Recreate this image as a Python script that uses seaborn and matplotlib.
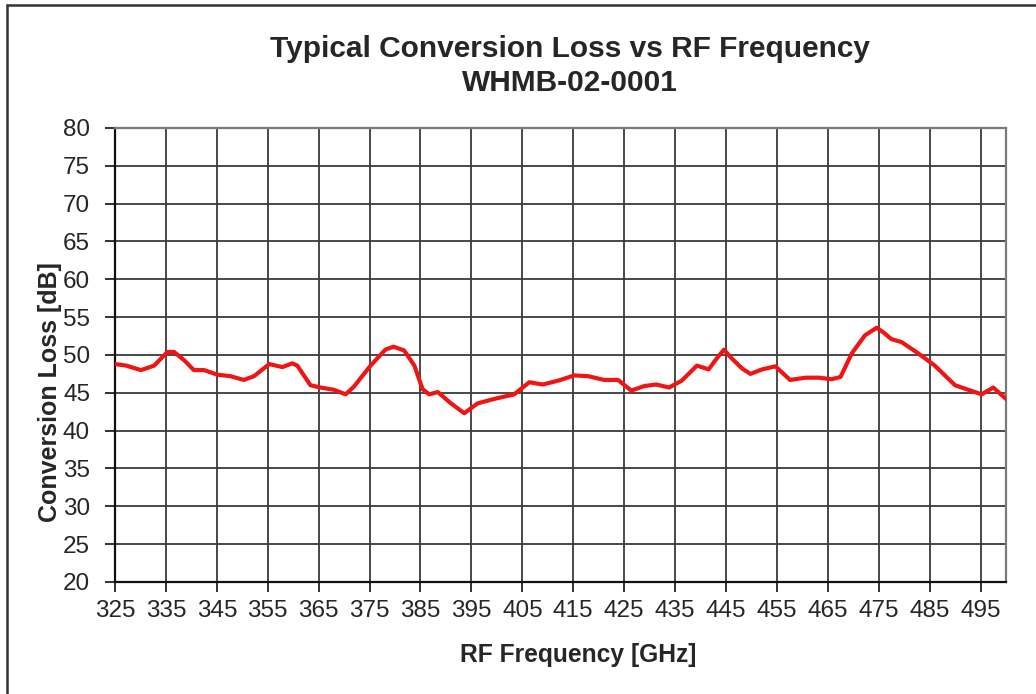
import matplotlib
matplotlib.use("Agg")
import matplotlib.pyplot as plt
import seaborn as sns
import pandas as pd
from matplotlib.lines import Line2D

# values
freq_ghz = [325, 327.2, 330.1, 332.7, 335.3, 336.6, 338.6, 340.5, 342.5, 345.1,
            347.7, 350.3, 352.3, 355.3, 357.9, 359.8, 360.8, 363.4, 365.4, 368.0,
            370.3, 371.9, 375.2, 378.1, 379.7, 381.8, 383.8, 385.4, 386.7, 388.4,
            391.0, 393.6, 396.2, 399.5, 403.4, 404.7, 406.4, 409.0, 412.0, 415.2,
            417.9, 421.1, 423.8, 426.4, 429.0, 431.3, 433.8, 436.3, 439.3, 441.6,
            442.9, 444.6, 446.2, 448.2, 449.8, 452.1, 454.7, 456.0, 457.6, 460.6,
            463.2, 465.8, 467.5, 469.7, 472.3, 474.6, 475.9, 477.5, 479.5, 482.8,
            486.0, 490.0, 492.6, 495.2, 497.5, 500.0]
loss_db = [48.8, 48.6, 48.0, 48.6, 50.4, 50.4, 49.3, 48.0, 48.0, 47.4,
           47.2, 46.7, 47.2, 48.8, 48.4, 48.9, 48.6, 46.0, 45.7, 45.4,
           44.8, 45.8, 48.6, 50.7, 51.1, 50.6, 48.6, 45.5, 44.8, 45.1,
           43.6, 42.3, 43.6, 44.2, 44.8, 45.5, 46.4, 46.1, 46.6, 47.3,
           47.2, 46.7, 46.7, 45.3, 45.9, 46.1, 45.7, 46.6, 48.6, 48.1,
           49.3, 50.7, 49.5, 48.2, 47.5, 48.1, 48.5, 47.7, 46.7, 47.0,
           47.0, 46.8, 47.1, 50.2, 52.6, 53.6, 53.0, 52.1, 51.7, 50.2,
           48.6, 46.0, 45.4, 44.8, 45.7, 44.2]
x_ticks = list(range(325, 500, 10))
y_ticks = list(range(20, 81, 5))

df = pd.DataFrame({"freq": freq_ghz, "loss": loss_db})

sns.set_style("white")
plt.rcParams["font.family"] = ["Liberation Sans", "DejaVu Sans"]

fig = plt.figure(figsize=(10.36, 6.94), dpi=100)
ax = fig.add_axes([115 / 1036, 1 - 582 / 694, (1006 - 115) / 1036, (582 - 128) / 694])

sns.lineplot(data=df, x="freq", y="loss", ax=ax, color="#f01414", linewidth=3.0,
             solid_joinstyle="round", solid_capstyle="round", zorder=5)

ax.set_xlim(325, 500)
ax.set_ylim(20, 80)
ax.set_xticks(x_ticks)
ax.set_yticks(y_ticks)
ax.grid(True, color="#3a3a3a", linewidth=1.3)
ax.tick_params(axis="both", which="major", direction="out", length=7, width=1.3,
               color="#222222", labelsize=17.5, bottom=True, left=True)
ax.tick_params(axis="x", pad=6)
ax.tick_params(axis="y", pad=11)

for side in ["left", "bottom"]:
    ax.spines[side].set_color("#111111")
    ax.spines[side].set_linewidth(1.6)
for side in ["right", "top"]:
    ax.spines[side].set_color("#7a7a7a")
    ax.spines[side].set_linewidth(1.6)

ax.set_xlabel("")
ax.set_ylabel("")
fig.text(578 / 1036, 1 - 655 / 694, "RF Frequency [GHz]", fontsize=17.7,
         fontweight="bold", ha="center", va="center")
fig.text(50 / 1036, 1 - 392 / 694, "Conversion Loss [dB]", fontsize=18,
         fontweight="bold", ha="center", va="center", rotation=90)
fig.text(570 / 1036, 1 - 66 / 694, "Typical Conversion Loss vs RF Frequency\nWHMB-02-0001",
         fontsize=21.5, fontweight="bold", ha="center", va="center", linespacing=1.25)

# outer frame (left and top edges visible in the reference)
fig.add_artist(Line2D([7 / 1036, 7 / 1036], [0, 1 - 5 / 694], color="#333333", linewidth=1.8))
fig.add_artist(Line2D([7 / 1036, 1], [1 - 5 / 694, 1 - 5 / 694], color="#333333", linewidth=1.8))

fig.savefig("out.png", dpi=100)
